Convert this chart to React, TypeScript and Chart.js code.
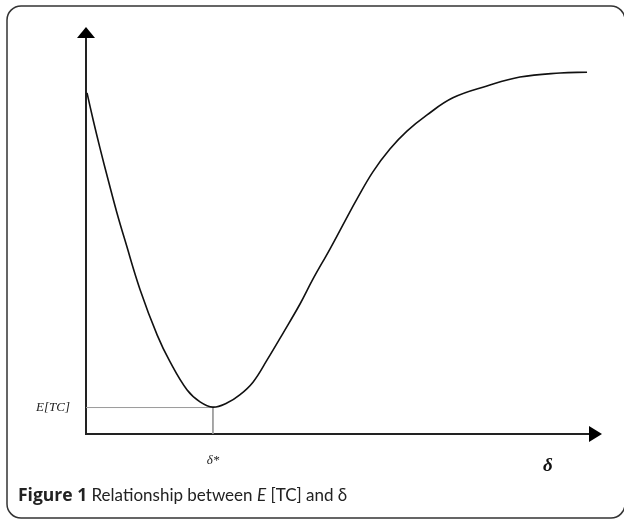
import React, { useEffect, useRef } from "react";
import { Chart, registerables } from "chart.js";

Chart.register(...registerables);

// δ (horizontal) positions of the traced curve, 0..100 axis units
const deltaValues = [0.2, 1.4, 2.7, 4.3, 6.0, 7.6, 10.5, 13.8, 16.3, 19.6, 22.1, 24.6, 27.3, 29.8, 32.4, 35.1, 38.2, 41.5, 44.0, 47.3, 50.6, 52.5, 55.6, 58.9, 62.2, 66.1, 71.1, 77.7, 84.1, 91.9, 97.1];
// E[TC] values at those positions, 0..100 axis units
const costValues = [83.8, 77.1, 70.3, 62.4, 54.3, 47.4, 35.4, 24.3, 17.7, 10.8, 7.9, 6.6, 7.6, 9.6, 12.8, 18.2, 24.8, 32.0, 38.1, 45.5, 53.3, 57.7, 64.4, 70.0, 74.4, 78.4, 82.6, 85.5, 87.7, 88.7, 88.9];

const deltaStar = 24.6;
const minCost = 6.5;
const xTickLabel = "δ*";
const yTickLabel = "E[TC]";
const xAxisTitle = "δ";

const overlay = {
  id: "overlay",
  beforeDatasetsDraw(chart: any) {
    const { ctx, chartArea } = chart;
    const { left, right, top, bottom } = chartArea;
    ctx.save();
    // frame
    ctx.strokeStyle = "#333";
    ctx.lineWidth = 1.5;
    const fx = 7, fy = 6, fw = 618, fh = 512, r = 14;
    ctx.beginPath();
    ctx.moveTo(fx + r, fy);
    ctx.lineTo(fx + fw - r, fy);
    ctx.arcTo(fx + fw, fy, fx + fw, fy + r, r);
    ctx.lineTo(fx + fw, fy + fh - r);
    ctx.arcTo(fx + fw, fy + fh, fx + fw - r, fy + fh, r);
    ctx.lineTo(fx + r, fy + fh);
    ctx.arcTo(fx, fy + fh, fx, fy + fh - r, r);
    ctx.lineTo(fx, fy + r);
    ctx.arcTo(fx, fy, fx + r, fy, r);
    ctx.closePath();
    ctx.stroke();
    // axes
    ctx.strokeStyle = "#222";
    ctx.fillStyle = "#000";
    ctx.lineWidth = 2;
    ctx.beginPath();
    ctx.moveTo(left, top + 11);
    ctx.lineTo(left, bottom);
    ctx.lineTo(right - 13, bottom);
    ctx.stroke();
    ctx.beginPath();
    ctx.moveTo(left, top);
    ctx.lineTo(left - 9, top + 11);
    ctx.lineTo(left + 9, top + 11);
    ctx.closePath();
    ctx.fill();
    ctx.beginPath();
    ctx.moveTo(right, bottom);
    ctx.lineTo(right - 13, bottom - 8);
    ctx.lineTo(right - 13, bottom + 8);
    ctx.closePath();
    ctx.fill();
    // axis title δ
    const xs = chart.scales.x;
    ctx.font = "italic bold 19px 'Liberation Serif'";
    ctx.fillStyle = "#111";
    ctx.textAlign = "center";
    ctx.textBaseline = "middle";
    ctx.fillText(xAxisTitle, xs.getPixelForValue(89.5), bottom + 32);
    ctx.restore();
  },
};

export default function App() {
  const ref = useRef<HTMLCanvasElement | null>(null);
  useEffect(() => {
    if (!ref.current) return;
    const curve = deltaValues.map((d, i) => ({ x: d, y: costValues[i] }));
    const guide = [
      { x: 0, y: minCost },
      { x: deltaStar, y: minCost },
      { x: deltaStar, y: 0 },
    ];
    const chart = new Chart(ref.current, {
      type: "line",
      data: {
        datasets: [
          {
            data: curve,
            borderColor: "#111",
            borderWidth: 1.6,
            pointRadius: 0,
            tension: 0.4,
            fill: false,
          },
          {
            data: guide,
            borderColor: "#9a9a9a",
            borderWidth: 1,
            pointRadius: 0,
            tension: 0,
            fill: false,
          },
        ],
      },
      options: {
        responsive: false,
        animation: false,
        events: [],
        layout: { padding: { left: 8, right: 22, top: 27, bottom: 28 } },
        plugins: { legend: { display: false }, tooltip: { enabled: false }, title: { display: false } },
        scales: {
          x: {
            type: "linear",
            min: 0,
            max: 100,
            grid: { display: false, drawTicks: false },
            border: { display: false },
            afterBuildTicks: (s: any) => {
              s.ticks = [{ value: deltaStar }];
            },
            afterFit: (s: any) => {
              s.height = 60;
            },
            ticks: {
              padding: 19,
              color: "#222",
              font: { family: "'Liberation Serif'", style: "italic", size: 13 },
              callback: () => xTickLabel,
            },
          },
          y: {
            type: "linear",
            min: 0,
            max: 100,
            grid: { display: false, drawTicks: false },
            border: { display: false },
            afterBuildTicks: (s: any) => {
              s.ticks = [{ value: minCost }];
            },
            afterFit: (s: any) => {
              s.width = 78;
            },
            ticks: {
              padding: 16,
              color: "#222",
              font: { family: "'Liberation Serif'", style: "italic", size: 13 },
              callback: () => yTickLabel,
            },
          },
        },
      },
      plugins: [overlay],
    });
    return () => chart.destroy();
  }, []);

  return (
    <div style={{ position: "fixed", left: 0, top: 0, width: 624, height: 522, background: "#fff" }}>
      <canvas ref={ref} width={624} height={522} style={{ position: "absolute", left: 0, top: 0 }} />
      <div
        style={{
          position: "absolute",
          left: 18,
          top: 483,
          fontFamily: "Lato, 'Open Sans', sans-serif",
          fontSize: 17,
          color: "#222",
          whiteSpace: "nowrap",
          lineHeight: "22px",
        }}
      >
        <b style={{ fontFamily: "'Open Sans', sans-serif", fontSize: 17.5 }}>Figure 1</b> Relationship between <i>E</i> [TC] and δ
      </div>
    </div>
  );
}
